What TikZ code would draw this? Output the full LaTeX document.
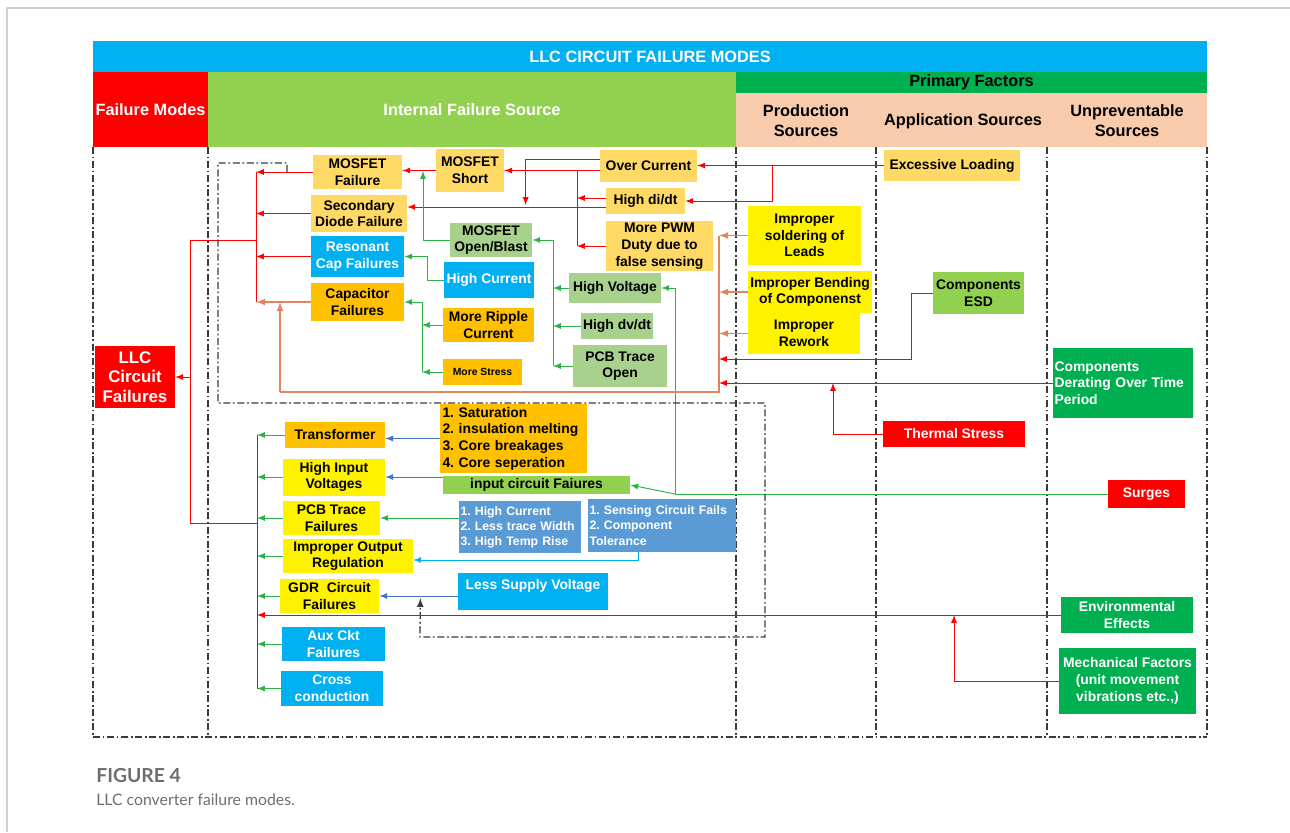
\documentclass[tikz,border=0pt]{standalone}
\usepackage{fontspec}
\setmainfont{Liberation Sans}
\newfontfamily\capfont{Lato}
\frenchspacing
\definecolor{ttlblue}{HTML}{00B0F0}
\definecolor{fmred}{HTML}{FF0000}
\definecolor{lgreen}{HTML}{92D050}
\definecolor{dgreen}{HTML}{00B050}
\definecolor{peach}{HTML}{F8CBAD}
\definecolor{lorange}{HTML}{FFD966}
\definecolor{amber}{HTML}{FFC000}
\definecolor{pgreen}{HTML}{A9D18E}
\definecolor{steel}{HTML}{5B9BD5}
\definecolor{brline}{HTML}{E4835C}
\definecolor{grline}{HTML}{2DB34A}
\definecolor{blline}{HTML}{4472C4}
\definecolor{grpgray}{HTML}{3A3A3A}
\definecolor{capgray}{HTML}{6E6E6E}
\newcommand{\bxfont}{\fontsize{7.9}{9.5}\selectfont\bfseries}
\newcommand{\hdfont}{\fontsize{9.3}{11.5}\selectfont\bfseries}
\newcommand{\lsfont}{\fontsize{7}{8.6}\selectfont\bfseries}
\begin{document}
\begin{tikzpicture}[x={(0.02cm,0)},y={(0,-0.02cm)},>=latex]
    \tikzset{
        cell/.style={inner sep=1pt, align=center, font=\bxfont, text=black},
        hdr/.style={inner sep=1pt, align=center, font=\hdfont},
        lor/.style={cell, fill=lorange},
        amb/.style={cell, fill=amber},
        yel/.style={cell, fill=yellow},
        pgr/.style={cell, fill=pgreen},
        lgr/.style={cell, fill=lgreen},
        blu/.style={cell, fill=ttlblue, text=white},
        rdb/.style={cell, fill=fmred, text=white},
        dgr/.style={cell, fill=dgreen, text=white},
        stl/.style={cell, fill=steel, text=white, font=\lsfont, align=left},
        redln/.style={draw=fmred, line width=0.55pt},
        grln/.style={draw=grline, line width=0.55pt},
        brln/.style={draw=brline, line width=0.8pt},
        blln/.style={draw=blline, line width=0.55pt},
        sepln/.style={draw=grpgray, line width=0.75pt, dash pattern=on 4pt off 1.5pt on 1pt off 1.5pt}
    };
    \useasboundingbox (0,0) rectangle (1290,832);
    \draw[gray!35, line width=0.8pt] (7,832) -- (7,8) -- (1290,8);

    \node[hdr, fill=ttlblue, text=white, minimum width=22.28cm, minimum height=0.62cm] (title) at (650,56.5) {LLC CIRCUIT FAILURE MODES};
    \node[hdr, fill=fmred, text=white, minimum width=2.3cm, minimum height=1.5cm] (fmodes) at (150.5,109.5) {Failure Modes};
    \node[hdr, fill=lgreen, text=white, minimum width=10.56cm, minimum height=1.5cm] (internal) at (472,109.5) {Internal Failure Source};
    \node[hdr, fill=dgreen, minimum width=9.42cm, minimum height=0.42cm] (primary) at (971.5,82.5) {Primary Factors};
    \node[fill=peach, inner sep=0, minimum width=9.42cm, minimum height=1.08cm] (srcbar) at (971.5,120) {};
    \node[hdr] (prod) at (806,121) {Production\\Sources};
    \node[hdr] (appl) at (963,121) {Application Sources};
    \node[hdr] (unprev) at (1127,121) {Unpreventable\\Sources};

    \foreach \x in {93,208,736,876,1047,1207}
        \draw[sepln] (\x,147) -- (\x,737);
    \draw[sepln] (93,737) -- (1207,737);

    \node[lor, minimum width=1.78cm, minimum height=0.68cm] (mosF) at (357.5,172) {MOSFET\\Failure};
    \node[lor, minimum width=1.92cm, minimum height=0.74cm] (diodeF) at (359,213.5) {Secondary\\Diode Failure};
    \node[blu, minimum width=1.86cm, minimum height=0.82cm] (rescapF) at (357.5,256.5) {Resonant\\Cap Failures};
    \node[amb, minimum width=1.86cm, minimum height=0.76cm] (capF) at (357.5,302) {Capacitor\\Failures};
    \node[rdb, font=\fontsize{9.6}{11}\selectfont\bfseries, minimum width=1.6cm, minimum height=1.24cm] (llc) at (135,377) {LLC\\Circuit\\Failures};
    \node[lor, minimum width=1.36cm, minimum height=0.86cm] (mosS) at (470,170.5) {MOSFET\\Short};
    \node[lor, minimum width=1.94cm, minimum height=0.64cm] (overI) at (648.5,166) {Over Current};
    \node[lor, minimum width=1.58cm, minimum height=0.52cm] (didt) at (645.5,201) {High di/dt};
    \node[lor, minimum width=2.14cm, minimum height=1.0cm] (pwm) at (659.5,246) {More PWM\\Duty due to\\false sensing};
    \node[pgr, minimum width=1.64cm, minimum height=0.68cm] (mosOB) at (491,240) {MOSFET\\Open/Blast};
    \node[blu, minimum width=1.8cm, minimum height=0.72cm] (hiI) at (489,280) {High Current};
    \node[pgr, minimum width=1.84cm, minimum height=0.6cm] (hiV) at (615,288) {High Voltage};
    \node[amb, minimum width=1.82cm, minimum height=0.68cm] (ripple) at (488.5,325) {More Ripple\\Current};
    \node[pgr, minimum width=1.44cm, minimum height=0.52cm] (dvdt) at (617,326) {High dv/dt};
    \node[amb, font=\fontsize{5.9}{7}\selectfont\bfseries, minimum width=1.58cm, minimum height=0.52cm] (stress) at (482.5,372) {More Stress};
    \node[pgr, minimum width=1.88cm, minimum height=0.84cm] (pcbO) at (620,366) {PCB Trace\\Open};

    \node[lor, minimum width=2.72cm, minimum height=0.62cm] (excL) at (952,165.5) {Excessive Loading};
    \node[yel, minimum width=2.26cm, minimum height=1.18cm] (solder) at (804.5,235.5) {Improper\\soldering of\\Leads};
    \node[yel, minimum width=2.48cm, minimum height=0.84cm] (bend) at (810,292) {Improper Bending\\of Componenst};
    \node[yel, minimum width=2.24cm, minimum height=0.82cm] (rework) at (804,333.5) {Improper\\Rework};
    \node[lgr, minimum width=1.82cm, minimum height=0.84cm] (esd) at (978.5,293) {Components\\ESD};
    \node[dgr, align=left, text width=2.74cm, minimum height=1.4cm, inner sep=0.03cm] (derate) at (1123,383) {Components\\Derating Over Time\\Period};
    \node[rdb, minimum width=2.84cm, minimum height=0.52cm] (thermal) at (954,434) {Thermal Stress};

    \node[amb, minimum width=2.0cm, minimum height=0.52cm] (trafo) at (335,435) {Transformer};
    \node[yel, minimum width=2.04cm, minimum height=0.74cm] (hiVin) at (334,477) {High Input\\Voltages};
    \node[yel, minimum width=1.94cm, minimum height=0.68cm] (pcbF) at (331.5,518) {PCB Trace\\Failures};
    \node[yel, minimum width=2.6cm, minimum height=0.68cm] (outReg) at (348,556) {Improper Output\\Regulation};
    \node[yel, minimum width=1.98cm, minimum height=0.68cm] (gdr) at (329.5,596) {GDR\ \ Circuit\\Failures};
    \node[blu, minimum width=2.06cm, minimum height=0.68cm] (aux) at (333.5,644) {Aux Ckt\\Failures};
    \node[blu, minimum width=2.04cm, minimum height=0.7cm] (cross) at (332,688.5) {Cross\\conduction};
    \node[amb, align=left, text width=2.84cm, minimum height=1.38cm, inner sep=0.05cm] (satur) at (513.5,438.5) {1. Saturation\\2. insulation melting\\3. Core breakages\\4. Core seperation};
    \node[lgr, minimum width=3.74cm, minimum height=0.36cm] (inCkt) at (536.5,485) {input circuit Faiures};
    \node[stl, text width=2.38cm, minimum height=1.04cm, inner sep=0.03cm] (hiIlist) at (520,527) {1. High Current\\2. Less trace Width\\3. High Temp Rise};
    \node[stl, text width=2.9cm, minimum height=1.06cm, inner sep=0.03cm] (sense) at (662,525.5) {1. Sensing Circuit Fails\\2. Component\\Tolerance};
    \node[blu, minimum width=3.0cm, text height=0.28cm, text depth=0.38cm] (lsv) at (533,591.5) {Less Supply Voltage};
    \node[rdb, minimum width=1.54cm, minimum height=0.56cm] (surges) at (1146.5,494) {Surges};
    \node[dgr, minimum width=2.64cm, minimum height=0.72cm] (env) at (1127,615) {Environmental\\Effects};
    \node[dgr, minimum width=2.74cm, minimum height=1.32cm] (mech) at (1127.5,681) {Mechanical Factors\\(unit movement\\vibrations etc.,)};

    \coordinate (ubusT) at (256,172);
    \coordinate (ubusB) at (256,302);
    \coordinate (trunkT) at (190,240);
    \coordinate (trunkB) at (190,523);
    \coordinate (lbusT) at (257,435);
    \coordinate (lbusB) at (257,689);
    \draw[redln] (ubusT) -- (ubusB);
    \draw[redln] (trunkT -| ubusT) -- (trunkT) -- (trunkB) -- (trunkB -| lbusT);
    \draw[redln,->] (llc.east -| trunkT) -- (llc.east);
    \draw[redln] (lbusT) -- (lbusB);
    \foreach \n in {mosF,diodeF,rescapF}
        \draw[redln,->] (\n.west) -- (\n.west -| ubusT);
    \draw[brln,->] (capF.west) -- (capF.west -| ubusT);
    \foreach \n in {trafo,hiVin,pcbF,outReg,gdr,aux,cross}
        \draw[grln,->] (\n.west) -- (\n.west -| lbusT);

    \draw[redln,->] (mosS.west) -- (mosF.east |- mosS.west);
    \draw[redln,->] (overI.west |- mosS.east) -- (mosS.east);
    \coordinate (didtO) at ([yshift=-0.12cm]didt.west);
    \coordinate (didtU) at ([yshift=0.06cm]didt.west);
    \draw[redln,->] (didtO) -- (diodeF.east |- didtO);
    \path (didtO) ++(-80,-2) coordinate (tapD);
    \draw[redln,->] ([yshift=-0.2cm]overI.north west) -| (tapD);
    \coordinate (ocbus) at (577,170.5);
    \draw[redln] (ocbus) -- (ocbus |- pwm.west);
    \draw[redln,->] (didtU) -- (ocbus |- didtU);
    \draw[redln,->] (pwm.west) -- (ocbus |- pwm.west);
    \draw[redln,->] (excL.west) -- (overI.east |- excL.west);
    \coordinate (exTap) at (772,165.5);
    \draw[redln,->] (exTap) |- (didt.east);

    \coordinate (obTap) at (423,171);
    \draw[grln,->] (mosOB.west) -| (obTap);
    \draw[grln,->] (hiI.west) -- ++(-16,0) |- (rescapF.east);
    \coordinate (cbx) at (422,0);
    \draw[grln,->] (ripple.west) -- (ripple.west -| cbx);
    \draw[grln,->] (stress.west) -- (stress.west -| cbx);
    \draw[grln,->] (stress.west -| cbx) -- (capF.east -| cbx) -- (capF.east);
    \coordinate (hvx) at (553,0);
    \draw[grln,->] (hiV.west) -- (hiV.west -| hvx);
    \draw[grln,->] (dvdt.west) -- (dvdt.west -| hvx);
    \draw[grln,->] (pcbO.west) -- (pcbO.west -| hvx);
    \draw[grln,->] (pcbO.west -| hvx) -- (mosOB.east -| hvx) -- (mosOB.east);
    \coordinate (sgx) at (675,0);
    \draw[grln,->] (surges.west) -- (surges.west -| sgx) -- (hiV.east -| sgx) -- (hiV.east);
    \draw[grln,->] (surges.west -| sgx) -- (inCkt.east);

    \coordinate (pbB) at (719,392);
    \coordinate (pbL) at (280,392);
    \draw[brln] (solder.west -| pbB) -- (pbB) -- (pbL);
    \draw[brln,->] (pbL) -- (pbL |- capF.west);
    \foreach \n in {solder,bend,rework}
        \draw[brln,->] (\n.west) -- (\n.west -| pbB);
    \coordinate (esdIn) at (719,359);
    \draw[redln,->] (esd.west) -- ++(-21,0) |- (esdIn);
    \draw[redln,->] (derate.west) -- (derate.west -| pbB);
    \coordinate (thTap) at (833,383);
    \draw[redln,->] (thermal.west) -| (thTap);

    \draw[blln,->] (satur.west) -- (trafo.east |- satur.west);
    \draw[blln,->] (inCkt.west |- hiVin.east) -- (hiVin.east);
    \draw[grln,->] (hiIlist.west |- pcbF.east) -- (pcbF.east);
    \draw[draw=ttlblue, line width=0.55pt, ->] ([xshift=-0.48cm]sense.south) |- ([yshift=-0.08cm]outReg.east);
    \draw[blln,->] (lsv.west |- gdr.east) -- (gdr.east);
    \path (gdr.east) ++(41,2) coordinate (gdrTap);
    \draw[sepln,->] (287,172) -- (287,163) -- (218,163) -- (218,403) -- (765,403) -- (765,637) -- (420,637) -- (gdrTap);
    \draw[redln,->] (env.west) -- (env.west -| lbusT);
    \coordinate (mcTap) at (954,615);
    \draw[redln,->] (mech.west) -| (mcTap);

    \node[font=\capfont\fontsize{11}{13}\selectfont\bfseries, text=capgray, anchor=west, inner sep=0] (fig) at (96,775) {FIGURE 4};
    \node[font=\capfont\fontsize{9}{11}\selectfont, text=capgray, anchor=west, inner sep=0] (figtxt) at (96,800) {LLC converter failure modes.};
\end{tikzpicture}
\end{document}
